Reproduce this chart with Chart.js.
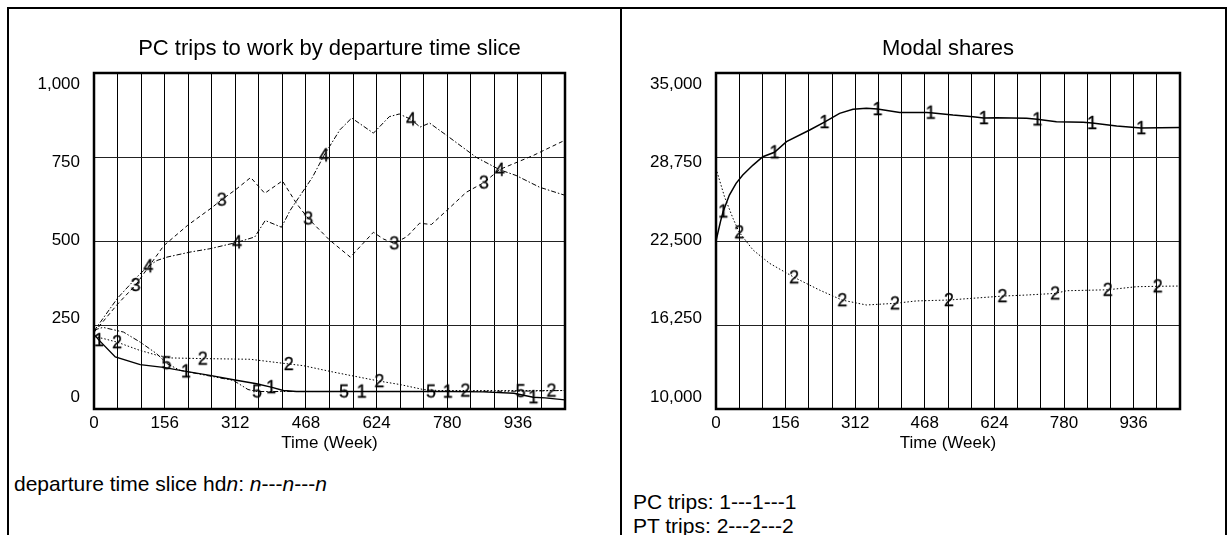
<!DOCTYPE html>
<html>
<head>
<meta charset="utf-8">
<script src="https://cdn.jsdelivr.net/npm/chart.js@4"></script>
<style>
body { margin:0; width:1232px; height:535px; overflow:hidden; background:#fff; position:relative; font-family:"Liberation Sans", Arial, sans-serif; }
.frame { position:absolute; border-color:#000; border-style:solid; }
#leftFrame { left:7px; top:7px; width:611px; height:600px; border-width:2px 2px 0 2px; }
#rightFrame { left:620px; top:7px; width:605px; height:600px; border-width:2px 2px 0 0; }
canvas { position:absolute; top:0; }
.key { position:absolute; font-size:21px; line-height:24px; white-space:nowrap; color:#000; }
</style>
</head>
<body>
<div class="frame" id="leftFrame"></div>
<div class="frame" id="rightFrame"></div>
<canvas id="tripsChart" width="622" height="470" style="left:0"></canvas>
<canvas id="shareChart" width="610" height="470" style="left:622px"></canvas>
<div class="key" style="left:14px; top:472px">departure time slice hd<i>n</i>: <i>n</i>---<i>n</i>---<i>n</i></div>
<div class="key" style="left:633px; top:490px">PC trips: 1---1---1<br>PT trips: 2---2---2</div>
<script>
// axes
const timeTicks = [0, 52, 104, 156, 208, 260, 312, 364, 416, 468, 520, 572, 624, 676, 728, 780, 832, 884, 936, 988, 1040];
const timeLabels = [0, 156, 312, 468, 624, 780, 936];
const tripTicks = [0, 250, 500, 750, 1000];
const shareTicks = [10000, 16250, 22500, 28750, 35000];

// PC trips to work by departure time slice (hd1..hd5)
const weeksHd1 = [0, 11, 47, 102, 153, 203, 256, 308, 359, 391, 418, 447, 520, 591, 700, 781, 860, 927, 970, 996, 1040];
const tripsHd1 = [222, 205, 155, 132, 124, 112, 100, 87, 75, 65, 55, 52, 52, 52, 52, 52, 51, 47, 35, 33, 27];
const markHd1 = [11, 203, 391, 591, 781, 970];

const weeksHd2 = [0, 20, 51, 100, 139, 168, 240, 345, 430, 462, 528, 630, 675, 727, 760, 820, 1010, 1040];
const tripsHd2 = [215, 210, 199, 175, 160, 152, 150, 148, 134, 129, 110, 83, 73, 58, 55, 55, 55, 55];
const markHd2 = [51, 240, 430, 630, 820, 1010];

const weeksHd3 = [0, 52, 92, 154, 207, 259, 282, 313, 346, 377, 416, 447, 473, 520, 566, 617, 639, 663, 691, 719, 745, 779, 822, 861, 896, 969, 1040];
const tripsHd3 = [228, 312, 369, 486, 547, 598, 623, 653, 689, 642, 679, 612, 567, 503, 452, 526, 506, 493, 513, 553, 549, 591, 645, 674, 713, 754, 800];
const markHd3 = [92, 282, 473, 663, 861];

const weeksHd4 = [0, 52, 100, 120, 139, 161, 212, 256, 316, 355, 378, 414, 433, 482, 508, 543, 569, 617, 652, 674, 700, 720, 741, 779, 844, 896, 932, 984, 1040];
const tripsHd4 = [232, 330, 400, 425, 442, 452, 467, 477, 496, 512, 561, 541, 591, 689, 755, 831, 866, 821, 870, 878, 862, 839, 851, 814, 749, 712, 695, 660, 636];
const markHd4 = [120, 316, 508, 700, 896];

const weeksHd5 = [0, 20, 65, 102, 139, 160, 190, 256, 308, 340, 360, 380, 450, 552, 744, 942, 1040];
const tripsHd5 = [235, 243, 229, 199, 164, 136, 115, 98, 85, 58, 52, 52, 52, 52, 52, 53, 55];
const markHd5 = [160, 360, 552, 744, 942];

// Modal shares
const weeksPC = [0, 10, 16, 30, 45, 60, 83, 105, 131, 158, 210, 243, 277, 307, 337, 362, 412, 472, 481, 531, 576, 600, 629, 696, 720, 763, 823, 843, 898, 953, 1040];
const tripsPC = [22500, 23940, 24700, 25920, 26790, 27410, 28150, 28770, 29100, 29890, 30760, 31350, 32000, 32300, 32370, 32320, 32070, 32070, 32050, 31870, 31750, 31650, 31670, 31630, 31550, 31380, 31330, 31280, 31050, 30900, 30940];
const markPC = [16, 131, 243, 362, 481, 600, 720, 843, 953];

const weeksPT = [0, 19, 38, 52, 83, 120, 175, 232, 283, 337, 401, 449, 522, 576, 642, 696, 760, 786, 878, 943, 990, 1040];
const tripsPT = [27900, 25800, 24190, 23150, 21830, 20840, 19800, 18850, 18100, 17740, 17860, 18040, 18110, 18240, 18400, 18480, 18600, 18800, 18870, 19100, 19130, 19150];
const markPT = [52, 175, 283, 401, 522, 642, 760, 878, 990];

Chart.defaults.font.family = '"Liberation Sans", Arial, sans-serif';
Chart.defaults.color = '#000';

// digit drawn on the line, like the Vensim series numbers
function digitImage(d) {
    const c = document.createElement('canvas');
    c.width = 16;
    c.height = 24;
    const g = c.getContext('2d');
    g.font = '18px "Liberation Sans", Arial, sans-serif';
    g.textAlign = 'center';
    g.textBaseline = 'middle';
    g.fillStyle = '#000';
    g.strokeStyle = '#000';
    g.lineWidth = 0.3;
    g.fillText(d, 8, 13);
    g.strokeText(d, 8, 13);
    return c;
}

function lineSet(weeks, values, marks, digit, dash, width) {
    const img = digitImage(digit);
    const isMark = c => marks.includes(weeks[c.dataIndex]);
    return {
        label: digit,
        data: weeks.map((w, i) => ({x: w, y: values[i]})),
        xAxisID: 'x',
        yAxisID: 'y',
        borderColor: '#000',
        borderWidth: width,
        borderDash: dash,
        tension: 0,
        clip: false,
        pointRadius: c => isMark(c) ? 6 : 0,
        pointHoverRadius: c => isMark(c) ? 6 : 0,
        pointStyle: c => isMark(c) ? img : 'circle'
    };
}

// plot frame
const framePlugin = {
    id: 'frame',
    afterDatasetsDraw(chart) {
        const a = chart.chartArea, g = chart.ctx;
        g.save();
        g.strokeStyle = '#000';
        g.lineWidth = 2.5;
        g.strokeRect(a.left, a.top, a.right - a.left, a.bottom - a.top);
        g.restore();
    }
};

function buildChart(id, title, datasets, ticksY, padRight) {
    const yMin = ticksY[0], yMax = ticksY[ticksY.length - 1];
    // labels sit a little inside the ends, as in the original
    const unit = 313 / (yMax - yMin);
    const labMin = yMin - 12 / unit, labMax = yMax + 11 / unit;
    return new Chart(document.getElementById(id), {
        type: 'line',
        data: {datasets: datasets},
        options: {
            responsive: false,
            animation: false,
            events: [],
            layout: {padding: {left: 0, right: padRight, top: 0, bottom: 0}},
            plugins: {
                legend: {display: false},
                tooltip: {enabled: false},
                title: {display: true, text: title, fullSize: false, color: '#000',
                    font: {size: 22, weight: 'normal'}, padding: {top: 36, bottom: 10.6}}
            },
            scales: {
                x: {
                    type: 'linear', min: 0, max: 1040,
                    afterBuildTicks: s => { s.ticks = timeTicks.map(v => ({value: v})); },
                    afterFit: s => { s.height = 61; },
                    grid: {color: '#000', lineWidth: 1, drawTicks: false},
                    border: {display: false},
                    ticks: {autoSkip: false, maxRotation: 0, padding: 4, font: {size: 17},
                        callback: v => timeLabels.includes(v) ? String(v) : ''},
                    title: {display: true, text: 'Time (Week)', font: {size: 17}, padding: {top: 0, bottom: 16}}
                },
                y: {
                    type: 'linear', position: 'left', min: yMin, max: yMax,
                    afterBuildTicks: s => { s.ticks = ticksY.map(v => ({value: v})); },
                    afterFit: s => { s.width = 0; },
                    grid: {color: '#222', lineWidth: 1, drawTicks: false},
                    border: {display: false},
                    ticks: {display: false}
                },
                yLabels: {
                    type: 'linear', position: 'left', min: labMin, max: labMax,
                    afterBuildTicks: s => { s.ticks = ticksY.map(v => ({value: v})); },
                    afterFit: s => { s.width = 94; },
                    grid: {display: false, drawTicks: false},
                    border: {display: false},
                    ticks: {padding: 14, font: {size: 17}, callback: v => v.toLocaleString('en-US')}
                }
            }
        },
        plugins: [framePlugin]
    });
}

buildChart('tripsChart', 'PC trips to work by departure time slice', [
    lineSet(weeksHd1, tripsHd1, markHd1, '1', [], 1.4),
    lineSet(weeksHd2, tripsHd2, markHd2, '2', [1.5, 2], 1),
    lineSet(weeksHd3, tripsHd3, markHd3, '3', [4, 3], 1),
    lineSet(weeksHd4, tripsHd4, markHd4, '4', [5, 2, 1.5, 2], 1),
    lineSet(weeksHd5, tripsHd5, markHd5, '5', [5, 2, 1.5, 2, 1.5, 2], 1)
], tripTicks, 57);

buildChart('shareChart', 'Modal shares', [
    lineSet(weeksPC, tripsPC, markPC, '1', [], 1.5),
    lineSet(weeksPT, tripsPT, markPT, '2', [1.5, 2], 1)
], shareTicks, 52);
</script>
</body>
</html>
